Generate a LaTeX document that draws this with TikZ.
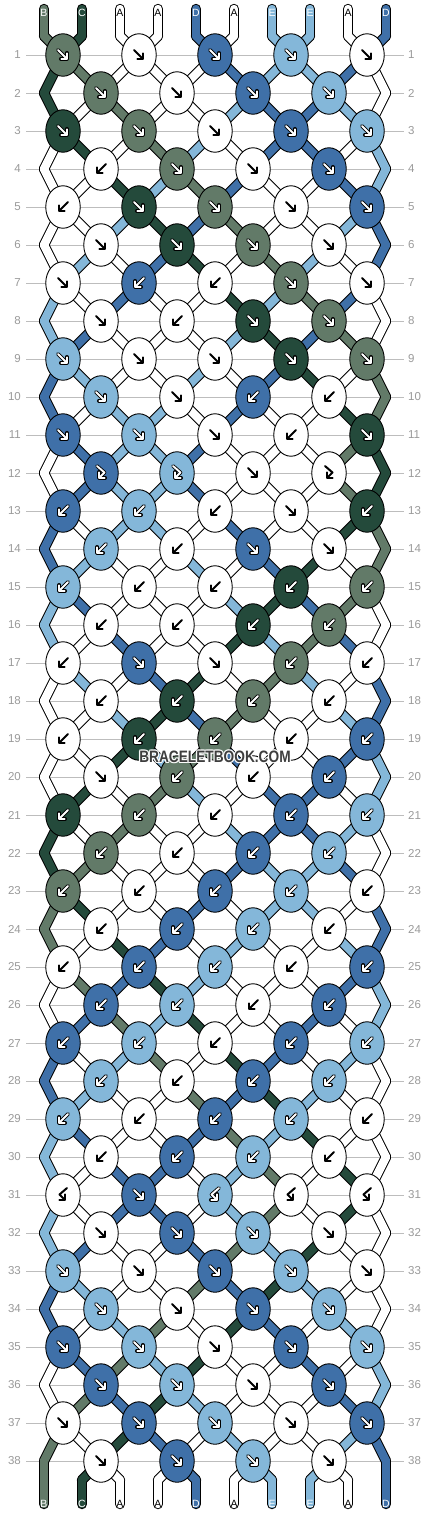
\documentclass[tikz,border=0pt]{standalone}
\usepackage{fontspec}
\setmainfont{Liberation Sans}
\usetikzlibrary{shapes.geometric,arrows.meta,calc}

\definecolor{strA}{HTML}{FFFFFF}
\definecolor{strB}{HTML}{627A68}
\definecolor{strC}{HTML}{244A3B}
\definecolor{strD}{HTML}{3F70A8}
\definecolor{strE}{HTML}{84B7D9}
\colorlet{tagA}{black}
\colorlet{tagB}{white}
\colorlet{tagC}{white}
\colorlet{tagD}{white}
\colorlet{tagE}{white}
\definecolor{rulegray}{HTML}{BDBDBD}
\definecolor{numgray}{HTML}{9A9A9A}
\definecolor{markgray}{HTML}{3E3E3E}

\pgfdeclarelayer{paper}
\pgfdeclarelayer{rules}
\pgfdeclarelayer{rims}
\pgfdeclarelayer{bands}
\pgfsetlayers{paper,rules,rims,bands,main}

% what lies at each of the ten places
\newcommand{\setcol}[2]{\expandafter\xdef\csname strcol#1\endcsname{#2}}
\newcommand{\getcol}[1]{\csname strcol#1\endcsname}
\newcommand{\setprev}[2]{\expandafter\xdef\csname strprev#1\endcsname{#2}}
\newcommand{\getprev}[1]{\csname strprev#1\endcsname}
\def\plainA{A}

% one piece of string: black rim below, colour above (drawn at the end)
\gdef\rimcmds{}
\gdef\bandcmds{}
\gdef\rulecmds{}
\newcommand{\band}[3]{%
  \xdef\rimcmds{\unexpanded\expandafter{\rimcmds}%
    \noexpand\draw[rim] (#2.center) -- (#3.center);}%
  \xdef\bandcmds{\unexpanded\expandafter{\bandcmds}%
    \noexpand\draw[strand=str#1] (#2.center) -- (#3.center);}}

\begin{document}
\begin{tikzpicture}[
  x = 1pt, y = -1pt,
  knot/.style = {
    ellipse,
    draw,
    line width = 0.9pt,
    fill = str#1,
    minimum width = 34.5pt,
    minimum height = 42.5pt,
    inner sep = 0pt,
  },
  rim/.style = {draw = black, line width = 10.4pt, line cap = round, line join = round},
  strand/.style = {draw = #1, line width = 8.4pt, line cap = round, line join = round},
  inkdark/.style = {draw = black, line width = 2pt, line cap = round, line join = round,
    -{Straight Barb[length=4.2pt,width=8.4pt,round]}},
  inkrim/.style = {draw = black, line width = 3.6pt, line cap = round, line join = round,
    -{Straight Barb[length=4.2pt,width=8.4pt,round]}},
  inklight/.style = {draw = white, line width = 1.9pt, line cap = round, line join = round,
    -{Straight Barb[length=4.2pt,width=8.4pt,round]}},
  rownum/.style = {text = numgray, font = \fontsize{11.5}{12}\selectfont, inner ysep = 0pt},
  tag/.style = {text = tag#1, font = \fontsize{10.5}{11}\selectfont, inner sep = 0pt},
  rowrule/.style = {draw = rulegray, line width = 0.9pt},
  watermark/.style = {font = \bfseries\fontsize{16.5}{17}\selectfont, inner sep = 0pt},
]

  \useasboundingbox (0,0) rectangle (430,1516);
  \begin{pgfonlayer}{paper}
    \fill[white] (0,0) rectangle (430,1516);
  \end{pgfonlayer}

  % strings at the top
  \foreach \lab [count=\pos] in {B,C,A,A,D,A,E,E,A,D} {
    \coordinate (t-\pos) at ({6+38*\pos},9);
    \coordinate (tb-\pos) at ({6+38*\pos},36);
    \setcol{\pos}{\lab}
    \setprev{\pos}{tb-\pos}
    \edef\piece{\noexpand\band{\lab}{t-\pos}{tb-\pos}
      \noexpand\node[tag=\lab] (tl-\pos) at ({6+38*\pos},12.5) {\lab};}\piece
  }

  % rows of knots
  \foreach \kinds [count=\row] in {
      {F,F,F,F,F},{F,F,F,F},{F,F,F,F,F},{B,F,F,F},{B,F,F,F,F},
      {F,F,F,F},{F,B,B,F,F},{F,B,F,F},{F,F,F,F,F},{F,F,B,B},
      {F,F,F,B,F},{f,f,F,f},{B,B,B,F,B},{B,B,F,F},{B,B,B,B,B},
      {B,B,B,B},{B,F,F,B,B},{B,B,B,B},{B,B,B,B,B},{F,B,B,B},
      {B,B,B,B,B},{B,B,B,B},{B,B,B,B,B},{B,B,B,B},{B,B,B,B,B},
      {B,B,B,B},{B,B,B,B,B},{B,B,B,B},{B,B,B,B,B},{B,B,B,B},
      {b,F,b,b,b},{F,F,F,F},{F,F,F,F,F},{F,F,F,F},{F,F,F,F,F},
      {F,F,F,F},{F,F,F,F,F},{F,F,F,F}} {
    \pgfmathtruncatemacro{\rowpar}{mod(\row,2)}
    \pgfmathsetmacro{\y}{17+38*\row}
    \node[rownum, anchor=east, inner xsep=5pt] (ln-\row) at (26,\y) {\row};
    \node[rownum, anchor=west, inner xsep=4pt] (rn-\row) at (404,\y) {\row};
    \xdef\rulecmds{\unexpanded\expandafter{\rulecmds}%
      \noexpand\draw[rowrule] (ln-\row) -- (rn-\row);}
    \ifnum\rowpar=0
      \foreach \pos in {1,10} {
        \coordinate (e-\row-\pos) at ({6+38*\pos},\y);
        \edef\piece{\noexpand\band{\getcol{\pos}}{\getprev{\pos}}{e-\row-\pos}}\piece
        \setprev{\pos}{e-\row-\pos}
      }
    \fi
    \foreach \kind [count=\kn] in \kinds {
      \pgfmathtruncatemacro{\lpos}{2*\kn-\rowpar}
      \pgfmathtruncatemacro{\rpos}{\lpos+1}
      \pgfmathsetmacro{\x}{25+38*\lpos}
      \edef\lc{\getcol{\lpos}}
      \edef\rc{\getcol{\rpos}}
      \let\kc\rc
      \if\kind F\let\kc\lc\fi
      \if\kind f\let\kc\lc\fi
      \edef\piece{\noexpand\node[knot=\kc] (k-\row-\kn) at (\x,\y) {};
        \noexpand\band{\lc}{\getprev{\lpos}}{k-\row-\kn}
        \noexpand\band{\rc}{\getprev{\rpos}}{k-\row-\kn}}\piece
      \if\kind F\def\arrpath{(-5,-5) -- (5,5)}\fi
      \if\kind B\def\arrpath{(5,-5) -- (-5,5)}\fi
      \if\kind f\def\arrpath{(-4,-7) -- (3.5,-0.5) -- (-3,6)}\fi
      \if\kind b\def\arrpath{(4,-7) -- (-3.5,-0.5) -- (3,6)}\fi
      \begin{scope}[shift={(k-\row-\kn.center)}]
        \ifx\kc\plainA
          \draw[inkdark] \arrpath;
        \else
          \draw[inkrim] \arrpath;
          \draw[inklight] \arrpath;
        \fi
      \end{scope}
      \setprev{\lpos}{k-\row-\kn}
      \setprev{\rpos}{k-\row-\kn}
      \if\kind F\setcol{\lpos}{\rc}\setcol{\rpos}{\lc}\fi
      \if\kind B\setcol{\lpos}{\rc}\setcol{\rpos}{\lc}\fi
    }
  }

  % strings at the bottom
  \foreach \pos in {1,...,10} {
    \coordinate (bb-\pos) at ({6+38*\pos},1480);
    \coordinate (b-\pos) at ({6+38*\pos},1504);
    \edef\piece{\noexpand\band{\getcol{\pos}}{\getprev{\pos}}{bb-\pos}
      \noexpand\band{\getcol{\pos}}{bb-\pos}{b-\pos}
      \noexpand\node[tag=\getcol{\pos}] (bl-\pos) at ({6+38*\pos},1504) {\getcol{\pos}};}\piece
  }

  \begin{pgfonlayer}{rules}
    \rulecmds
  \end{pgfonlayer}
  \begin{pgfonlayer}{rims}
    \rimcmds
  \end{pgfonlayer}
  \begin{pgfonlayer}{bands}
    \bandcmds
  \end{pgfonlayer}

  % site mark with a light halo
  \coordinate (markat) at (215,757);
  \foreach \ang in {0,45,...,315}
    \node[watermark, text=white, opacity=0.85] at ($(markat)+(\ang:1.2)$) {\scalebox{0.83}[1]{BRACELETBOOK.COM}};
  \node[watermark, text=markgray] (mark) at (markat) {\scalebox{0.83}[1]{BRACELETBOOK.COM}};

\end{tikzpicture}
\end{document}
